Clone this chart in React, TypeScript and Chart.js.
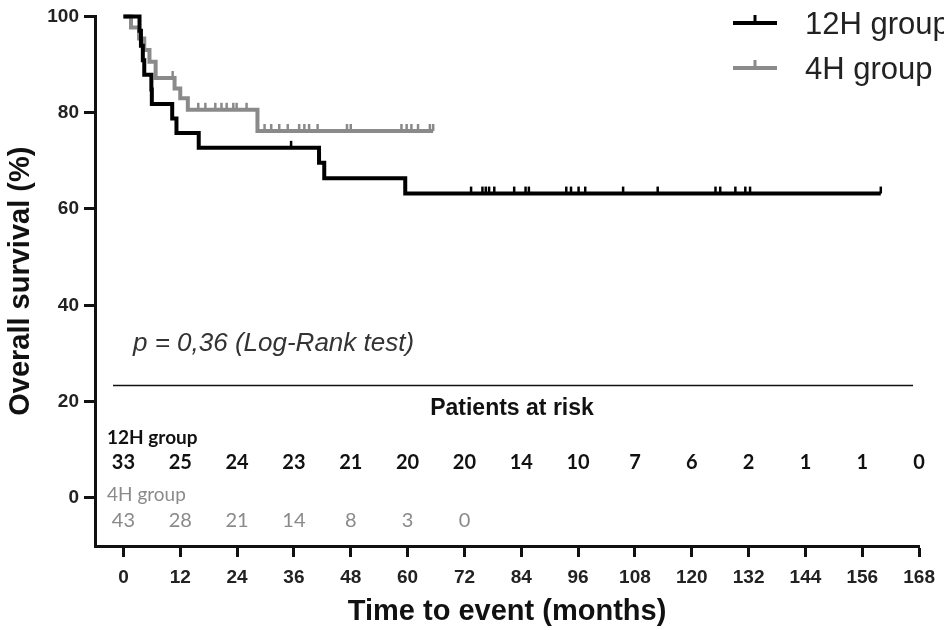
import React, { useEffect, useRef } from "react";
import { Chart, registerables } from "chart.js";

Chart.register(...registerables);

// ---- Data ----
const xTicks = [0, 12, 24, 36, 48, 60, 72, 84, 96, 108, 120, 132, 144, 156, 168];
const yTicks = [0, 20, 40, 60, 80, 100];

// 12H group: Kaplan-Meier step times (months) and survival (%)
const times12H = [0, 3.4, 3.7, 4.1, 4.4, 5.9, 6.0, 10.3, 11.2, 15.9, 41.3, 42.4, 59.5, 159.9];
const surv12H = [100, 97.0, 93.9, 90.9, 87.9, 84.8, 81.8, 78.8, 75.8, 72.7, 69.6, 66.4, 63.2, 63.2];
const censor12H = [35.4, 73.4, 75.8, 76.5, 77.2, 78.3, 82.5, 84.9, 85.6, 93.5, 94.5, 96.1, 97.5, 105.5, 112.8, 125.0, 126.0, 129.2, 131.3, 132.3, 159.9];

// 4H group
const times4H = [0, 1.6, 3.3, 4.4, 5.5, 6.8, 10.8, 12.0, 13.6, 28.3, 65.4];
const surv4H = [100, 97.7, 95.4, 93.0, 90.6, 87.2, 85.0, 83.0, 80.6, 76.2, 76.2];
const censor4H = [10.4, 15.8, 17.3, 19.4, 20.7, 21.8, 23.2, 23.9, 26.0, 29.8, 31.2, 32.9, 34.7, 37.1, 38.2, 39.2, 41.0, 47.2, 48.0, 58.7, 59.8, 60.8, 62.2, 64.7, 65.4];

// Patients at risk
const riskTimes = xTicks;
const risk12H = [33, 25, 24, 23, 21, 20, 20, 14, 10, 7, 6, 2, 1, 1, 0];
const risk4H = [43, 28, 21, 14, 8, 3, 0];

const groupLabels = ["12H group", "4H group"];
const pValueText = "p = 0,36 (Log-Rank test)";

const BLACK = "#000000";
const GRAY = "#8a8a8a";
const ARIAL = '"Liberation Sans", Arial, sans-serif';
const CAL = 'Lato, "Open Sans", sans-serif';

function stepValue(times: number[], surv: number[], t: number) {
  let v = surv[0];
  for (let i = 0; i < times.length; i++) if (times[i] <= t) v = surv[i];
  return v;
}

const annotations = {
  id: "kmAnnotations",
  afterDraw(chart: any) {
    const ctx = chart.ctx as CanvasRenderingContext2D;
    const xs = chart.scales.x;
    ctx.save();
    // p-value
    ctx.font = `italic 26px ${ARIAL}`;
    ctx.fillStyle = "#333";
    ctx.textBaseline = "middle";
    ctx.textAlign = "left";
    ctx.fillText(pValueText, 133, 344);
    // separator line
    ctx.strokeStyle = "#111";
    ctx.lineWidth = 1.5;
    ctx.beginPath();
    ctx.moveTo(113, 385.5);
    ctx.lineTo(913, 385.5);
    ctx.stroke();
    // Patients at risk
    ctx.font = `bold 23px ${ARIAL}`;
    ctx.fillStyle = "#111";
    ctx.textAlign = "center";
    ctx.fillText("Patients at risk", 512, 409);
    // group labels
    ctx.textAlign = "left";
    ctx.font = `bold 19px ${CAL}`;
    ctx.fillStyle = "#111";
    ctx.fillText(groupLabels[0], 107, 438);
    ctx.font = `19px ${CAL}`;
    ctx.fillStyle = GRAY;
    ctx.fillText(groupLabels[1], 107, 495);
    // numbers
    ctx.textAlign = "center";
    ctx.font = `bold 20px ${CAL}`;
    ctx.fillStyle = "#111";
    risk12H.forEach((n, i) => ctx.fillText(String(n), xs.getPixelForValue(riskTimes[i]), 463));
    ctx.font = `20px ${CAL}`;
    ctx.fillStyle = GRAY;
    risk4H.forEach((n, i) => ctx.fillText(String(n), xs.getPixelForValue(riskTimes[i]), 521));
    // legend
    const items = [
      { color: BLACK, y: 23, ty: 25, label: groupLabels[0] },
      { color: GRAY, y: 68, ty: 70, label: groupLabels[1] },
    ];
    items.forEach((it) => {
      ctx.strokeStyle = it.color;
      ctx.lineWidth = 4;
      ctx.beginPath();
      ctx.moveTo(733, it.y);
      ctx.lineTo(777, it.y);
      ctx.stroke();
      ctx.lineWidth = 3;
      ctx.beginPath();
      ctx.moveTo(755, it.y);
      ctx.lineTo(755, it.y - 8);
      ctx.stroke();
      ctx.font = `31px ${ARIAL}`;
      ctx.fillStyle = "#222";
      ctx.textAlign = "left";
      ctx.fillText(it.label, 805, it.ty);
    });
    ctx.restore();
  },
};

export default function App() {
  const ref = useRef<HTMLCanvasElement | null>(null);
  useEffect(() => {
    document.body.style.margin = "0";
    const canvas = ref.current!;
    const line12 = times12H.map((t, i) => ({ x: t, y: surv12H[i] }));
    const line4 = times4H.map((t, i) => ({ x: t, y: surv4H[i] }));
    const c12 = censor12H.map((t) => ({ x: t, y: stepValue(times12H, surv12H, t) }));
    const c4 = censor4H.map((t) => ({ x: t, y: stepValue(times4H, surv4H, t) }));
    const tickFont = { family: ARIAL, size: 19, weight: "bold" as const };
    const titleFont = { family: ARIAL, size: 29, weight: "bold" as const };
    const chart = new Chart(canvas, {
      type: "line",
      data: {
        datasets: [
          { label: "12H censor", data: c12, showLine: false, pointStyle: "dash", rotation: 270, pointRadius: 7, pointBorderWidth: 2.5, pointBorderColor: BLACK, pointBackgroundColor: BLACK, clip: false } as any,
          { label: groupLabels[0], data: line12, stepped: true, borderColor: BLACK, borderWidth: 4, pointRadius: 0, fill: false, clip: false } as any,
          { label: "4H censor", data: c4, showLine: false, pointStyle: "dash", rotation: 270, pointRadius: 7, pointBorderWidth: 2.5, pointBorderColor: GRAY, pointBackgroundColor: GRAY, clip: false } as any,
          { label: groupLabels[1], data: line4, stepped: true, borderColor: GRAY, borderWidth: 4, pointRadius: 0, fill: false, clip: false } as any,
        ],
      },
      options: {
        animation: false,
        responsive: false,
        events: [],
        layout: { padding: { top: 15, right: 18, left: 0, bottom: 0 } },
        plugins: { legend: { display: false }, tooltip: { enabled: false } },
        scales: {
          x: {
            type: "linear",
            min: -6,
            max: 168,
            afterBuildTicks: (s: any) => { s.ticks = xTicks.map((v) => ({ value: v })); },
            afterFit: (s: any) => { s.height = 84; },
            grid: { display: true, drawOnChartArea: false, drawTicks: true, tickLength: 11, tickWidth: 3, tickColor: "#111" },
            border: { display: true, width: 3, color: "#111" },
            ticks: { font: tickFont, color: "#222", padding: 9, maxRotation: 0, autoSkip: false },
            title: { display: true, text: "Time to event (months)", font: titleFont, color: "#111", padding: { top: 0, bottom: 1 } },
          },
          y: {
            type: "linear",
            min: -10,
            max: 100,
            afterBuildTicks: (s: any) => { s.ticks = yTicks.map((v) => ({ value: v })); },
            afterFit: (s: any) => { s.width = 95; },
            grid: { display: true, drawOnChartArea: false, drawTicks: true, tickLength: 11, tickWidth: 3, tickColor: "#111" },
            border: { display: true, width: 3, color: "#111" },
            ticks: { font: tickFont, color: "#222", padding: 5 },
            title: { display: true, text: "Overall survival (%)", font: titleFont, color: "#111", padding: { top: 4, bottom: 0 } },
          },
        },
      },
      plugins: [annotations],
    });
    return () => chart.destroy();
  }, []);
  return (
    <div style={{ position: "absolute", left: 0, top: 0, width: 944, height: 630, background: "#fff" }}>
      <canvas ref={ref} width={944} height={630} />
    </div>
  );
}
